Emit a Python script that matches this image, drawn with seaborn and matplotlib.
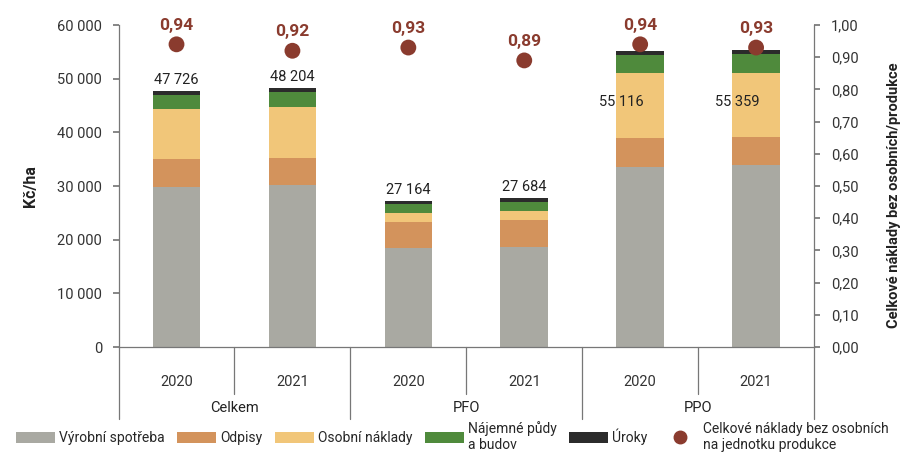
import matplotlib
matplotlib.use("Agg")
import matplotlib.pyplot as plt
import matplotlib.transforms as mtransforms
from matplotlib.lines import Line2D
from matplotlib.patches import Patch
import numpy as np
import pandas as pd
import seaborn as sns

# --- data (Kč/ha) ---
groups = ["Celkem", "Celkem", "PFO", "PFO", "PPO", "PPO"]
years = ["2020", "2021", "2020", "2021", "2020", "2021"]
vyrobni_spotreba = [29800, 30200, 18400, 18700, 33600, 34000]
odpisy = [5200, 5100, 4900, 4950, 5300, 5200]
osobni_naklady = [9300, 9400, 1700, 1750, 12100, 11900]
najemne = [2600, 2900, 1600, 1600, 3400, 3500]
uroky = [826, 604, 564, 684, 716, 759]
totals = [47726, 48204, 27164, 27684, 55116, 55359]
ratio = [0.94, 0.92, 0.93, 0.89, 0.94, 0.93]

layer_names = ["Výrobní spotřeba", "Odpisy", "Osobní náklady",
               "Nájemné půdy\na budov", "Úroky"]
layer_colors = ["#a9a9a2", "#d3935c", "#f1c679", "#4f8a3c", "#2b2b2b"]
dot_color = "#8a3b2e"

sns.set_theme(style="white")
plt.rcParams["font.family"] = ["Roboto", "DejaVu Sans"]

keys = [f"{g} {y}" for g, y in zip(groups, years)]
layers = np.array([vyrobni_spotreba, odpisy, osobni_naklady, najemne, uroky])
cum = np.cumsum(layers, axis=0)

fig = plt.figure(figsize=(9.05, 4.63), dpi=100)
ax = fig.add_axes([0.131, 0.2505, 0.7685, 0.6955])

# stacked bars: draw cumulative heights, tallest first
for i in range(len(layer_names) - 1, -1, -1):
    df = pd.DataFrame({"key": keys, "value": cum[i]})
    sns.barplot(data=df, x="key", y="value", order=keys, color=layer_colors[i],
                width=0.41, saturation=1, ax=ax, linewidth=0)

ax.set_ylim(0, 60000)
ax.set_xlim(-0.5, 5.5)
ax.set_yticks(np.arange(0, 60001, 10000))
ax.set_yticklabels([f"{v:,}".replace(",", " ") for v in range(0, 60001, 10000)])
ax.set_xticks(range(6))
ax.set_xticklabels(years)
ax.tick_params(axis="y", left=True, length=4, color="#777777", labelsize=10.5,
               labelcolor="#333333", pad=8)
ax.tick_params(axis="x", bottom=False, labelsize=10.5, labelcolor="#333333", pad=14)
ax.set_xlabel("")
ax.set_ylabel("Kč/ha", fontsize=11.5, fontweight="bold", color="#222222", labelpad=14)
for s in ["top", "right"]:
    ax.spines[s].set_visible(False)
for s in ["left", "bottom"]:
    ax.spines[s].set_color("#777777")
    ax.spines[s].set_linewidth(0.9)

# total labels
for i, t in enumerate(totals):
    lab = f"{t:,}".replace(",", " ")
    if groups[i] == "PPO":
        ax.text(i - 0.16, 45600, lab, ha="center", va="center",
                fontsize=10.5, color="#222222")
    else:
        ax.text(i, t + 800, lab, ha="center", va="bottom",
                fontsize=10.5, color="#222222")

# group separators and labels
trans = mtransforms.blended_transform_factory(ax.transData, ax.transAxes)
for xpos in [-0.5, 1.5, 3.5, 5.5]:
    ax.add_line(Line2D([xpos, xpos], [0, -0.225], transform=trans,
                       color="#777777", lw=0.9, clip_on=False))
for xpos in [0.5, 2.5, 4.5]:
    ax.add_line(Line2D([xpos, xpos], [0, -0.145], transform=trans,
                       color="#777777", lw=0.9, clip_on=False))
for j, g in enumerate(["Celkem", "PFO", "PPO"]):
    ax.text(2 * j + 0.5, -0.19, g, transform=trans, ha="center", va="center",
            fontsize=10.5, color="#222222")

# ratio on right axis
ax2 = ax.twinx()
sns.scatterplot(x=np.arange(len(ratio)), y=ratio, color=dot_color, s=130,
                edgecolor="none", ax=ax2, zorder=5)
ax2.set_ylim(0, 1.0)
ax2.set_yticks(np.arange(0, 1.01, 0.1))
ax2.set_yticklabels([f"{v:.2f}".replace(".", ",") for v in np.arange(0, 1.01, 0.1)])
ax2.tick_params(axis="y", right=True, length=4, color="#777777", labelsize=10.5,
                labelcolor="#333333", pad=8)
ax2.set_ylabel("Celkové náklady bez osobních/produkce", fontsize=10.5,
               fontweight="bold", color="#222222", labelpad=10)
ax2.yaxis.set_label_coords(1.105, 0.47)
for s in ["top", "left", "bottom"]:
    ax2.spines[s].set_visible(False)
ax2.spines["right"].set_color("#777777")
ax2.spines["right"].set_linewidth(0.9)
for i, r in enumerate(ratio):
    ax2.text(i, r + 0.035, f"{r:.2f}".replace(".", ","), ha="center", va="bottom",
             fontsize=12.5, fontweight="bold", color=dot_color)

# legend
handles = [Patch(facecolor=c, edgecolor="none") for c in layer_colors]
handles.append(Line2D([], [], marker="o", linestyle="none", color=dot_color,
                      markersize=9))
labels = layer_names + ["Celkové náklady bez osobních\nna jednotku produkce"]
fig.legend(handles, labels, loc="upper center", bbox_to_anchor=(0.5, 0.102),
           ncol=6, frameon=False, fontsize=10, handlelength=2.8, handleheight=0.9,
           columnspacing=0.9, handletextpad=0.3, borderaxespad=0)

fig.savefig("out.png", dpi=100)
